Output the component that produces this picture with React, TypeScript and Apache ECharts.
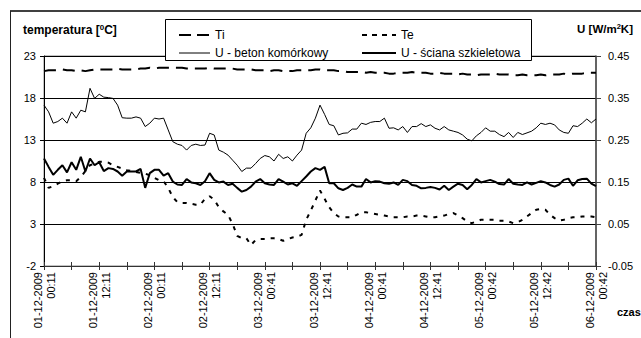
import React, { useEffect, useRef } from "react";
import * as echarts from "echarts";

const tickLabels = [
  "01-12-2009\n00:11", "01-12-2009\n12:11", "02-12-2009\n00:11", "02-12-2009\n12:11",
  "03-12-2009\n00:41", "03-12-2009\n12:41", "04-12-2009\n00:41", "04-12-2009\n12:41",
  "05-12-2009\n00:42", "05-12-2009\n12:42", "06-12-2009\n00:42",
];

// hourly samples, index 0 .. 120
const hours = Array.from({ length: 121 }, (_, i) => String(i));

const ti = [
  21.2, 21.3, 21.3, 21.3, 21.4, 21.3, 21.3, 21.2, 21.3, 21.2,
  21.3, 21.4, 21.4, 21.4, 21.4, 21.4, 21.5, 21.4, 21.4, 21.4,
  21.4, 21.5, 21.5, 21.6, 21.5, 21.6, 21.6, 21.6, 21.6, 21.6,
  21.6, 21.5, 21.5, 21.5, 21.5, 21.5, 21.6, 21.5, 21.5, 21.5,
  21.5, 21.5, 21.4, 21.4, 21.4, 21.4, 21.3, 21.3, 21.3, 21.2,
  21.3, 21.3, 21.2, 21.2, 21.2, 21.3, 21.3, 21.3, 21.3, 21.4,
  21.4, 21.3, 21.3, 21.3, 21.2, 21.2, 21.1, 21.1, 21.1, 21.1,
  21.0, 21.1, 21.0, 21.0, 21.0, 20.9, 20.9, 21.0, 21.0, 21.0,
  21.1, 21.0, 21.0, 21.0, 20.9, 20.9, 21.0, 20.9, 20.9, 20.9,
  20.8, 20.9, 20.8, 20.8, 20.7, 20.8, 20.8, 20.8, 20.9, 20.8,
  20.8, 20.8, 20.7, 20.7, 20.8, 20.7, 20.7, 20.7, 20.8, 20.7,
  20.8, 20.8, 20.8, 20.9, 20.8, 20.9, 20.9, 20.9, 21.0, 21.0,
  21.0,
];

const te = [
  8.5, 7.3, 7.5, 7.8, 8.1, 8.2, 8.2, 8.1, 8.6, 9.3,
  10.0, 10.2, 10.4, 10.4, 10.3, 10.0, 9.8, 9.6, 9.4, 9.3,
  9.2, 9.1, 9.0, 8.8, 8.5, 8.2, 8.1, 7.3, 6.2, 5.6,
  5.5, 5.5, 5.4, 5.3, 5.3, 6.0, 6.3, 5.9, 5.0, 4.5,
  4.1, 3.0, 1.6, 1.3, 1.3, 0.5, 1.1, 1.2, 1.2, 1.3,
  1.3, 1.2, 1.0, 1.2, 1.4, 1.5, 1.7, 3.5, 4.6, 5.8,
  7.0, 6.0, 5.0, 4.3, 3.9, 3.8, 3.8, 3.8, 4.1, 4.4,
  4.4, 4.3, 4.2, 4.1, 4.0, 3.9, 3.8, 3.8, 3.8, 3.9,
  3.9, 4.0, 4.0, 3.9, 3.8, 3.8, 3.9, 4.0, 4.2, 4.3,
  4.0, 3.7, 3.3, 3.1, 3.3, 3.5, 3.5, 3.5, 3.5, 3.4,
  3.4, 3.3, 3.1, 3.2, 3.5, 3.9, 4.3, 4.7, 4.8, 4.7,
  4.1, 3.7, 3.4, 3.5, 3.7, 3.8, 3.8, 3.9, 3.9, 3.9,
  3.8,
];

const uBeton = [
  0.333, 0.317, 0.290, 0.294, 0.302, 0.290, 0.317, 0.302, 0.321, 0.317,
  0.373, 0.349, 0.359, 0.352, 0.351, 0.349, 0.333, 0.303, 0.302, 0.302,
  0.305, 0.302, 0.282, 0.290, 0.302, 0.300, 0.302, 0.274, 0.246, 0.240,
  0.237, 0.226, 0.237, 0.240, 0.237, 0.238, 0.266, 0.262, 0.226, 0.221,
  0.214, 0.202, 0.190, 0.175, 0.183, 0.183, 0.194, 0.206, 0.213, 0.210,
  0.200, 0.216, 0.206, 0.210, 0.200, 0.214, 0.226, 0.266, 0.279, 0.302,
  0.333, 0.311, 0.287, 0.284, 0.262, 0.266, 0.267, 0.276, 0.276, 0.290,
  0.287, 0.292, 0.294, 0.294, 0.302, 0.278, 0.279, 0.274, 0.282, 0.268,
  0.282, 0.282, 0.289, 0.282, 0.286, 0.278, 0.274, 0.282, 0.274, 0.271,
  0.268, 0.262, 0.252, 0.248, 0.260, 0.268, 0.279, 0.271, 0.271, 0.263,
  0.258, 0.268, 0.256, 0.268, 0.263, 0.267, 0.271, 0.279, 0.290, 0.287,
  0.290, 0.286, 0.274, 0.268, 0.266, 0.284, 0.282, 0.290, 0.300, 0.291,
  0.300,
];

const uSciana = [
  0.206, 0.186, 0.167, 0.179, 0.190, 0.173, 0.197, 0.179, 0.210, 0.175,
  0.206, 0.190, 0.197, 0.176, 0.183, 0.181, 0.175, 0.165, 0.175, 0.175,
  0.175, 0.181, 0.136, 0.171, 0.179, 0.179, 0.165, 0.171, 0.151, 0.144,
  0.143, 0.157, 0.149, 0.147, 0.143, 0.152, 0.171, 0.155, 0.149, 0.151,
  0.143, 0.146, 0.136, 0.127, 0.131, 0.139, 0.151, 0.157, 0.147, 0.144,
  0.143, 0.157, 0.151, 0.144, 0.147, 0.141, 0.152, 0.163, 0.175, 0.183,
  0.179, 0.186, 0.147, 0.147, 0.135, 0.131, 0.136, 0.144, 0.139, 0.139,
  0.157, 0.149, 0.152, 0.151, 0.147, 0.146, 0.149, 0.143, 0.155, 0.152,
  0.143, 0.141, 0.135, 0.136, 0.138, 0.136, 0.132, 0.141, 0.131, 0.139,
  0.146, 0.143, 0.133, 0.143, 0.157, 0.149, 0.152, 0.155, 0.151, 0.145,
  0.144, 0.157, 0.146, 0.144, 0.143, 0.149, 0.144, 0.148, 0.152, 0.149,
  0.143, 0.139, 0.144, 0.155, 0.158, 0.141, 0.154, 0.157, 0.158, 0.146,
  0.140,
];

const FONT = "'Liberation Sans', Arial, sans-serif";

export default function App() {
  const ref = useRef<HTMLDivElement>(null);

  useEffect(() => {
    if (!ref.current) return;
    const chart = echarts.init(ref.current, null, { renderer: "svg" });
    const axisFont = { fontFamily: FONT, fontSize: 11, color: "#000" };
    const tickFn = (i: number) => i % 6 === 0;

    chart.setOption({
      animation: false,
      backgroundColor: "#fff",
      textStyle: { fontFamily: FONT },
      grid: {
        left: 44, right: 45, top: 56, bottom: 72,
        show: true, borderColor: "#888", borderWidth: 1, backgroundColor: "transparent",
      },
      legend: [
        {
          z: 10, orient: "vertical", left: 173, top: 24,
          itemWidth: 31, itemHeight: 14, itemGap: 6,
          itemStyle: { opacity: 0 },
          textStyle: { fontFamily: FONT, fontSize: 12, color: "#000" },
          data: [
            { name: "Ti", lineStyle: { width: 2, type: [12, 6] } },
            { name: "U - beton komórkowy", lineStyle: { width: 1 } },
          ],
        },
        {
          z: 10, orient: "vertical", left: 356, top: 24,
          itemWidth: 34, itemHeight: 14, itemGap: 6,
          itemStyle: { opacity: 0 },
          textStyle: { fontFamily: FONT, fontSize: 12, color: "#000" },
          data: [
            { name: "Te", lineStyle: { width: 2, type: [5, 5] } },
            { name: "U - ściana szkieletowa", lineStyle: { width: 2 } },
          ],
        },
      ],
      xAxis: [
        {
          type: "category",
          data: hours,
          boundaryGap: false,
          axisLine: { onZero: false, lineStyle: { color: "#333", width: 1 } },
          axisTick: { show: true, length: 4, interval: tickFn, lineStyle: { color: "#333" } },
          axisLabel: {
            ...axisFont,
            rotate: 90,
            margin: 6,
            lineHeight: 13,
            interval: (i: number) => i % 12 === 0,
            formatter: (_v: string, i: number) => tickLabels[Math.round(i / 12)] ?? "",
          },
          splitLine: { show: false },
        },
        {
          type: "category",
          data: hours,
          boundaryGap: false,
          position: "bottom",
          axisLine: { show: false, onZero: false },
          axisTick: { show: true, inside: true, length: 4, interval: tickFn, lineStyle: { color: "#333" } },
          axisLabel: { show: false },
          splitLine: { show: false },
        },
      ],
      yAxis: [
        {
          type: "value",
          min: -2, max: 23, interval: 5,
          axisLine: { show: true, onZero: false, lineStyle: { color: "#000", width: 1 } },
          axisTick: { show: true, length: 4, lineStyle: { color: "#000" } },
          axisLabel: { ...axisFont, margin: 8 },
          splitLine: { show: true, lineStyle: { color: "#000", width: 1 } },
        },
        {
          type: "value",
          min: -0.05, max: 0.45, interval: 0.1,
          position: "right",
          axisLine: { show: true, onZero: false, lineStyle: { color: "#444", width: 1.5 } },
          axisTick: { show: true, length: 5, lineStyle: { color: "#444" } },
          axisLabel: { ...axisFont, margin: 12, formatter: (v: number) => v.toFixed(2) },
          splitLine: { show: false },
        },
      ],
      series: [
        {
          name: "Ti", type: "line", yAxisIndex: 0, data: ti, symbol: "none",
          color: "#000", lineStyle: { color: "#000", width: 2, type: [12, 7] },
        },
        {
          name: "Te", type: "line", yAxisIndex: 0, data: te, symbol: "none",
          color: "#000", lineStyle: { color: "#000", width: 2, type: [4, 6] },
        },
        {
          name: "U - beton komórkowy", type: "line", yAxisIndex: 1, data: uBeton, symbol: "none",
          color: "#000", lineStyle: { color: "#000", width: 1 },
        },
        {
          name: "U - ściana szkieletowa", type: "line", yAxisIndex: 1, data: uSciana, symbol: "none",
          color: "#000", lineStyle: { color: "#000", width: 2 }, z: 3,
        },
      ],
      graphic: [
        { type: "line", z: 20, shape: { x1: 10, y1: 11, x2: 641, y2: 11 }, style: { stroke: "#404040", lineWidth: 2 } },
        { type: "line", z: 20, shape: { x1: 10.5, y1: 11, x2: 10.5, y2: 338 }, style: { stroke: "#222", lineWidth: 1 } },
        {
          type: "rect", z: 9,
          shape: { x: 165.5, y: 19.5, width: 366, height: 41 },
          style: { fill: "#fff", stroke: "#000", lineWidth: 1 },
        },
        {
          type: "text", z: 20, x: 23, y: 30,
          style: {
            text: "{b|temperatura [}{s|0}{b|C]}",
            verticalAlign: "middle",
            rich: {
              b: { fontFamily: FONT, fontSize: 12, fontWeight: "bold", fill: "#000" },
              s: { fontFamily: FONT, fontSize: 8, fontWeight: "bold", fill: "#000", verticalAlign: "top", padding: [0, 0, 6, 0] },
            },
          },
        },
        {
          type: "text", z: 20, x: 633, y: 29,
          style: {
            text: "{b|U [W/m}{s|2}{b|K]}",
            align: "right",
            verticalAlign: "middle",
            rich: {
              b: { fontFamily: FONT, fontSize: 11.5, fontWeight: "bold", fill: "#000" },
              s: { fontFamily: FONT, fontSize: 7.5, fontWeight: "bold", fill: "#000", verticalAlign: "top", padding: [0, 0, 6, 0] },
            },
          },
        },
        {
          type: "text", z: 20, x: 617, y: 312,
          style: { text: "czas", fontFamily: FONT, fontSize: 11, fontWeight: "bold", fill: "#000", verticalAlign: "middle" },
        },
      ],
    });

    return () => chart.dispose();
  }, []);

  return (
    <div
      ref={ref}
      style={{ position: "fixed", left: 0, top: 0, width: 641, height: 338, background: "#fff" }}
    />
  );
}
